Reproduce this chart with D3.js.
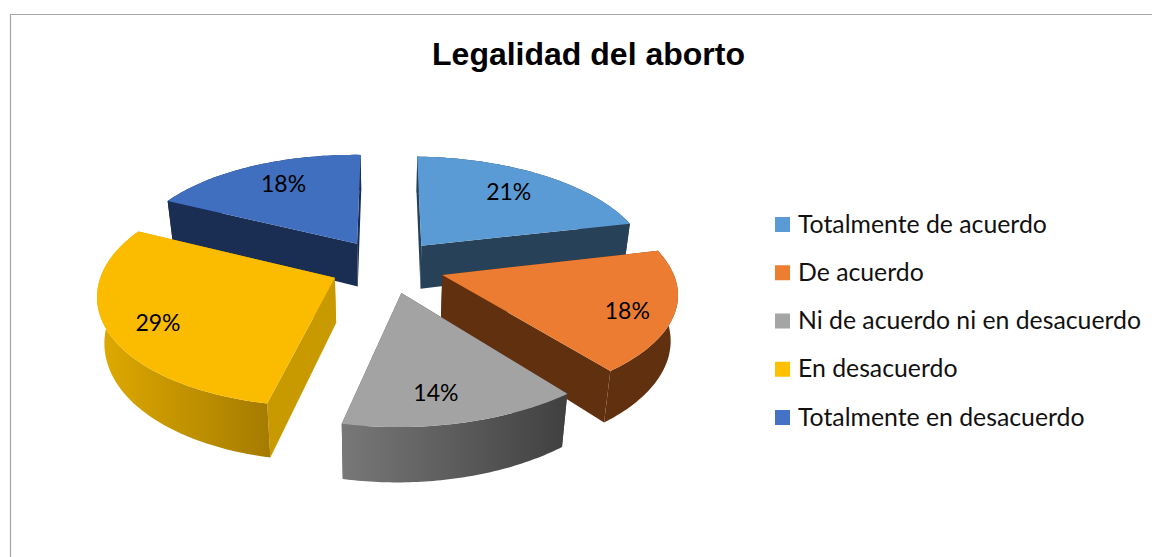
<!DOCTYPE html>
<html><head><meta charset="utf-8">
<script src="https://cdn.jsdelivr.net/npm/d3@7"></script>
<style>html,body{margin:0;padding:0;background:#fff}svg{display:block}</style>
</head><body><svg id="c" width="1152" height="557"></svg>
<script>
const categories=["Totalmente de acuerdo","De acuerdo","Ni de acuerdo ni en desacuerdo","En desacuerdo","Totalmente en desacuerdo"];
const values=[21,18,14,29,18];
const swatchColors=["#5b9bd5","#ed7d31","#a5a5a5","#ffc000","#4472c4"];
const topColors=["#5b9bd5","#ec7c31","#a3a3a3","#fbbc00","#416fbf"];
const wallColors=["#264158","#61310f","#555555","#c99a00","#1a2d52"];
const rimFrom=["#264158","#61310f","#787878","#dfaa00","#1a2d52"];
const rimTo=["#264158","#61310f","#404040","#a67c00","#1a2d52"];
const title="Legalidad del aborto";

const cx=387,cy=266,R=230,Ry=107,persp=0.14,H=45.5,conv=0.025,explode=0.25,labelFrac=0.78;
function proj(X,Z,h){
  const w=1-persp*Z+conv*h;
  const shear=-7*Math.pow(Math.max(Z,0),2);
  return [cx+R*X/w+shear,cy+(Ry*Z+H*(1+0.1*Z)*h)/w+2.3*X];
}
const svg=d3.select("#c");
const defs=svg.append("defs");
svg.append("path").attr("d","M1152,14.5H10.5V557").attr("fill","none").attr("stroke","#a6a6a6").attr("stroke-width",1.2);
svg.append("text").attr("x",588.5).attr("y",65).attr("text-anchor","middle")
  .attr("font-family","Liberation Sans").attr("font-weight","700").attr("font-size",32).attr("fill","#000").text(title);

const arcs=d3.pie().sort(null).value(d=>d)(values);
const line=d3.line();
const slices=arcs.map((a,i)=>{
  const mid=(a.startAngle+a.endAngle)/2;
  const ax=explode*Math.sin(mid),az=-explode*Math.cos(mid);
  const pt=(t,r,h)=>proj(ax+r*Math.sin(t),az-r*Math.cos(t),h);
  const ts=d3.range(0,61).map(k=>a.startAngle+(a.endAngle-a.startAngle)*k/60);
  const lab=()=>{const sn=Math.sin(mid),s4=Math.pow(sn,4);
    return proj(ax+labelFrac*sn*Math.pow(Math.abs(sn),0.2)*(1+0.04*s4),az-labelFrac*Math.cos(mid)+0.05*s4,0);};
  return {i,mid,pt,ts,a,lab};
});
const order=[4,0,3,1,2];
const g=svg.append("g");
order.forEach(idx=>{
  const s=slices[idx],{i,pt,ts,a}=s,sl=g.append("g");
  const rimTop=ts.map(t=>pt(t,1,0)),rimBot=ts.map(t=>pt(t,1,1));
  const xs=rimTop.map(p=>p[0]);
  const gid="rim"+i;
  const gr=defs.append("linearGradient").attr("id",gid).attr("gradientUnits","userSpaceOnUse")
    .attr("x1",d3.min(xs)).attr("x2",d3.max(xs)).attr("y1",0).attr("y2",0);
  gr.append("stop").attr("offset",0).attr("stop-color",rimFrom[i]);
  gr.append("stop").attr("offset",1).attr("stop-color",rimTo[i]);
  [a.startAngle,a.endAngle].forEach(t=>{
    sl.append("path").attr("d",line([pt(t,0,0),pt(t,1,0),pt(t,1,1),pt(t,0,1)])+"Z").attr("fill",wallColors[i]);
  });
  sl.append("path").attr("d",line(rimTop.concat(rimBot.slice().reverse()))+"Z").attr("fill",`url(#${gid})`);
  sl.append("path").attr("d",line([pt(a.startAngle,0,0)].concat(rimTop))+"Z").attr("fill",topColors[i]);
});
slices.forEach(s=>{
  const p=s.lab();
  svg.append("text").attr("x",p[0]).attr("y",p[1]+10).attr("text-anchor","middle")
    .attr("font-family","Lato").attr("font-size",23).attr("fill","#000").text(values[s.i]+"%");
});
const ly=d3.scalePoint().domain(categories).range([224,417]);
const leg=svg.append("g").selectAll("g").data(categories).join("g").attr("transform",d=>`translate(775,${ly(d)})`);
leg.append("rect").attr("x",0).attr("y",-7).attr("width",15).attr("height",15).attr("fill",(d,i)=>swatchColors[i]);
leg.append("text").attr("x",23).attr("y",8.5).attr("font-family","Lato").attr("font-size",24.8).attr("fill","#111").text(d=>d);
</script></body></html>
